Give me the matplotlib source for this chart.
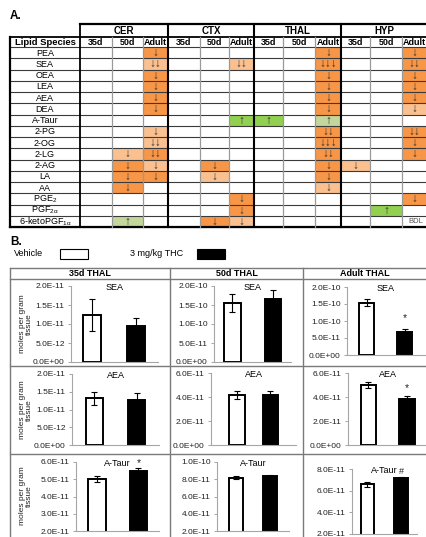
import matplotlib
matplotlib.use('Agg')
import matplotlib.pyplot as plt
from matplotlib.patches import Rectangle

plt.rcParams['font.family'] = ['Liberation Sans', 'DejaVu Sans']
plt.rcParams['mathtext.fontset'] = 'custom'
plt.rcParams['mathtext.rm'] = 'Liberation Sans'
plt.rcParams['mathtext.it'] = 'Liberation Sans:italic'
plt.rcParams['mathtext.bf'] = 'Liberation Sans:bold'

# ---------------- Part A data ----------------
lipids = ['PEA', 'SEA', 'OEA', 'LEA', 'AEA', 'DEA', 'A-Taur', '2-PG', '2-OG', '2-LG',
          '2-AG', 'LA', 'AA', r'PGE$_{2}$', r'PGF$_{2\mathrm{α}}$', r'6-ketoPGF$_{1\mathrm{α}}$']
regions = ['CER', 'CTX', 'THAL', 'HYP']
ages = ['35d', '50d', 'Adult']
# codes: d=dark orange down, l=light orange down (number = arrows), g=green up, h=light green up
CER_35d = ['', '', '', '', '', '', '', '', '', '', '', '', '', '', '', '']
CER_50d = ['', '', '', '', '', '', '', '', '', 'l1', 'd1', 'd1', 'd1', '', '', 'h']
CER_Adult = ['d1', 'l2', 'd1', 'd1', 'd1', 'd1', '', 'l1', 'l2', 'd2', 'l1', 'd1', '', '', '', '']
CTX_35d = ['', '', '', '', '', '', '', '', '', '', '', '', '', '', '', '']
CTX_50d = ['', '', '', '', '', '', '', '', '', '', 'd1', 'l1', '', '', '', 'd1']
CTX_Adult = ['', 'l2', '', '', '', '', 'g', '', '', '', '', '', '', 'd1', 'd1', 'l1']
THAL_35d = ['', '', '', '', '', '', 'g', '', '', '', '', '', '', '', '', '']
THAL_50d = ['', '', '', '', '', '', '', '', '', '', '', '', '', '', '', '']
THAL_Adult = ['d1', 'd3', 'd1', 'd1', 'd1', 'd1', 'h', 'd2', 'd3', 'd2', 'd1', 'd1', 'l1', '', '', '']
HYP_35d = ['', '', '', '', '', '', '', '', '', '', 'l1', '', '', '', '', '']
HYP_50d = ['', '', '', '', '', '', '', '', '', '', '', '', '', '', 'g', '']
HYP_Adult = ['d1', 'd2', 'd1', 'd1', 'd1', 'l1', '', 'd2', 'd1', 'd1', '', '', '', 'd1', '', 'BDL']
table_columns = [CER_35d, CER_50d, CER_Adult, CTX_35d, CTX_50d, CTX_Adult,
                 THAL_35d, THAL_50d, THAL_Adult, HYP_35d, HYP_50d, HYP_Adult]

# ---------------- Part B data ----------------
ages_b = ['35d THAL', '50d THAL', 'Adult THAL']
analytes = ['SEA', 'AEA', 'A-Taur']
sea_vehicle = [1.24e-11, 1.55e-10, 1.54e-10]
sea_vehicle_err = [0.42e-11, 0.24e-10, 0.11e-10]
sea_thc = [0.95e-11, 1.66e-10, 0.69e-10]
sea_thc_err = [0.20e-11, 0.23e-10, 0.07e-10]
aea_vehicle = [1.31e-11, 4.17e-11, 5.0e-11]
aea_vehicle_err = [0.19e-11, 0.33e-11, 0.25e-11]
aea_thc = [1.28e-11, 4.15e-11, 3.83e-11]
aea_thc_err = [0.18e-11, 0.35e-11, 0.22e-11]
ataur_vehicle = [5.0e-11, 8.2e-11, 6.6e-11]
ataur_vehicle_err = [0.17e-11, 0.2e-11, 0.24e-11]
ataur_thc = [5.5e-11, 8.35e-11, 7.15e-11]
ataur_thc_err = [0.13e-11, 0.2e-11, 0.15e-11]
sig_marks = [['', '', '*'], ['', '', '*'], ['*', '', '#']]
y_ranges = [[(0, 2e-11, 5e-12), (0, 2e-10, 5e-11), (0, 2e-10, 5e-11)],
            [(0, 2e-11, 5e-12), (0, 6e-11, 2e-11), (0, 6e-11, 2e-11)],
            [(2e-11, 6e-11, 1e-11), (2e-11, 1e-10, 2e-11), (2e-11, 8e-11, 2e-11)]]
veh_rows = [sea_vehicle, aea_vehicle, ataur_vehicle]
veh_err_rows = [sea_vehicle_err, aea_vehicle_err, ataur_vehicle_err]
thc_rows = [sea_thc, aea_thc, ataur_thc]
thc_err_rows = [sea_thc_err, aea_thc_err, ataur_thc_err]

# ---------------- figure ----------------
W, H = 427, 537
fig = plt.figure(figsize=(W / 100, H / 100), dpi=100)
fig.patch.set_facecolor('white')
ov = fig.add_axes([0, 0, 1, 1])
ov.set_xlim(0, W)
ov.set_ylim(H, 0)
ov.axis('off')

DARK = '#F79646'
LIGHT = '#FAC090'
GREEN = '#92D050'
LGREEN = '#C3D69B'
fill = {'d': DARK, 'l': LIGHT, 'g': GREEN, 'h': LGREEN}

# table layout
x_l0, x_l1 = 10, 80
col_edges = [80, 112, 143, 168, 200, 229, 254, 283, 315, 341, 370, 402, 427]
y_h1, y_h2, y_d0 = 24, 37, 47
row_h = 11.25
n_rows = len(lipids)
y_end = y_d0 + n_rows * row_h

ov.text(10, 16, 'A.', fontsize=8.5, fontweight='bold', ha='left', va='center')

for ci, col in enumerate(table_columns):
    x0, x1 = col_edges[ci], col_edges[ci + 1]
    for ri, code in enumerate(col):
        if not code:
            continue
        yc = y_d0 + (ri + 0.5) * row_h
        if code == 'BDL':
            ov.text((x0 + x1) / 2 + 1, yc + 0.5, 'BDL', fontsize=5.5, color='#555555',
                    ha='center', va='center')
            continue
        kind = code[0]
        ov.add_patch(Rectangle((x0, y_d0 + ri * row_h), x1 - x0, row_h,
                               facecolor=fill[kind], edgecolor='none', zorder=1))
        if kind in 'dl':
            sym = '↓' * int(code[1])
        else:
            sym = '↑'
        ov.text((x0 + x1) / 2, yc + 0.3, sym, fontsize=8.5, color='#333333',
                ha='center', va='center', zorder=3)

# row lines
for r in range(n_rows + 1):
    y = y_d0 + r * row_h
    ov.plot([x_l0, 432], [y, y], color='#3a3a3a', lw=0.8, zorder=2)
ov.plot([x_l0, 432], [y_h2, y_h2], color='black', lw=1.3, zorder=2)
ov.plot([x_l1, 432], [y_h1, y_h1], color='black', lw=1.6, zorder=2)
ov.plot([x_l0, 432], [y_end, y_end], color='black', lw=1.6, zorder=2)
ov.plot([x_l0, x_l0], [y_h2, y_end], color='black', lw=1.6, zorder=2)
ov.plot([x_l1, x_l1], [y_h1, y_end], color='black', lw=1.3, zorder=2)
for ci in range(1, len(col_edges) - 1):
    x = col_edges[ci]
    if ci % 3 == 0:
        ov.plot([x, x], [y_h1, y_end], color='black', lw=1.5, zorder=2)
    else:
        ov.plot([x, x], [y_h2, y_end], color='#999999', lw=0.9, zorder=2)

for gi, reg in enumerate(regions):
    xa, xb = col_edges[gi * 3], col_edges[gi * 3 + 3]
    ov.text((xa + xb) / 2, (y_h1 + y_h2) / 2 + 0.5, reg, fontsize=7,
            fontweight='bold', ha='center', va='center')
    for ai, ag in enumerate(ages):
        xa2, xb2 = col_edges[gi * 3 + ai], col_edges[gi * 3 + ai + 1]
        ov.text((xa2 + xb2) / 2, (y_h2 + y_d0) / 2 + 0.5, ag, fontsize=6.5,
                fontweight='bold', ha='center', va='center')
ov.text((x_l0 + x_l1) / 2, (y_h2 + y_d0) / 2 + 0.5, 'Lipid Species', fontsize=6.8,
        fontweight='bold', ha='center', va='center')
for ri, name in enumerate(lipids):
    ov.text((x_l0 + x_l1) / 2, y_d0 + (ri + 0.5) * row_h + 0.5, name, fontsize=6.5,
            ha='center', va='center')

# ---------------- Part B ----------------
ov.text(10, 242, 'B.', fontsize=8.5, fontweight='bold', ha='left', va='center')
ov.text(14, 254, 'Vehicle', fontsize=6.5, ha='left', va='center')
ov.add_patch(Rectangle((60, 249), 28, 10, facecolor='white', edgecolor='black', lw=0.8))
ov.text(130, 254, '3 mg/kg THC', fontsize=6.5, ha='left', va='center')
ov.add_patch(Rectangle((197, 249), 28, 10, facecolor='black', edgecolor='black', lw=0.8))

gcol = '#7a7a7a'
grid_x = [10, 170, 303, 427]
for y in [268, 279, 366, 454]:
    ov.plot([10, 432], [y, y], color=gcol, lw=1.0)
for x in [10, 170, 303]:
    ov.plot([x, x], [268, 540], color=gcol, lw=1.0)
for i, lab in enumerate(ages_b):
    xc = (grid_x[i] + grid_x[i + 1]) / 2
    ov.text(xc, 273.7, lab, fontsize=6.5, fontweight='bold', ha='center', va='center')

# panel layout: axis x, bar centers, bar width, top y, bottom y (pixels)
panel_px = [
    [(71, 92.5, 136.5, 18, 286, 362), (214, 232.5, 273, 16.5, 286, 362), (347, 367, 405, 15, 287, 355)],
    [(72, 94.5, 136.5, 17, 374, 445), (211, 237, 270.5, 15.5, 373, 445), (348, 368.5, 407, 15.5, 373, 445)],
    [(76, 97, 138.5, 17.5, 462, 531), (217, 236, 270, 14.5, 462, 531), (352, 367.5, 401, 13.5, 469, 534)],
]
mark_off = [11, 8, 5]
ylabel_y = [324, 410, 496]

for r in range(3):
    ov.text(26, ylabel_y[r], 'moles per gram\ntissue', fontsize=6, rotation=90,
            ha='center', va='center', color='#222222', linespacing=1.0)
    for c in range(3):
        L, c0, c1, w, yt, yb = panel_px[r][c]
        s = c1 - c0
        a = (L - c0) / s
        b = 1 + (c0 - L) / s
        R = c1 + (c0 - L)
        ax = fig.add_axes([L / W, 1 - yb / H, (R - L) / W, (yb - yt) / H])
        ax.set_facecolor('none')
        lo, hi, step = y_ranges[r][c]
        ax.set_xlim(a, b)
        ax.set_ylim(lo, hi)
        n = int(round((hi - lo) / step))
        ticks = [lo + k * step for k in range(n + 1)]
        ax.set_yticks(ticks)
        ax.set_yticklabels(['{:.1E}'.format(t) for t in ticks])
        ax.set_xticks([])
        for sp in ['top', 'right']:
            ax.spines[sp].set_visible(False)
        for sp in ['left', 'bottom']:
            ax.spines[sp].set_color('#A6A6A6')
            ax.spines[sp].set_linewidth(0.8)
        ax.tick_params(axis='y', direction='out', length=2.5, width=0.7, color='#A6A6A6',
                       labelsize=6, labelcolor='#222222', pad=2)
        vals = [veh_rows[r][c], thc_rows[r][c]]
        errs = [veh_err_rows[r][c], thc_err_rows[r][c]]
        ax.bar([0, 1], vals, width=w / s, color=['white', 'black'], edgecolor='black',
               linewidth=1.4, zorder=2)
        ax.errorbar([0, 1], vals, yerr=errs, fmt='none', ecolor='black', elinewidth=0.8,
                    capsize=2.2, capthick=0.8, zorder=3)
        ax.text(0.5, 0.975, analytes[r], transform=ax.transAxes, fontsize=6.5,
                ha='center', va='center')
        m = sig_marks[r][c]
        if m:
            ax.annotate(m, xy=(1, vals[1] + errs[1]), xytext=(0, mark_off[r] * 0.72),
                        textcoords='offset points', ha='center', va='center',
                        fontsize=7.5 if m == '*' else 6.5, color='#222222')

fig.savefig('out.png', dpi=100, facecolor='white')
